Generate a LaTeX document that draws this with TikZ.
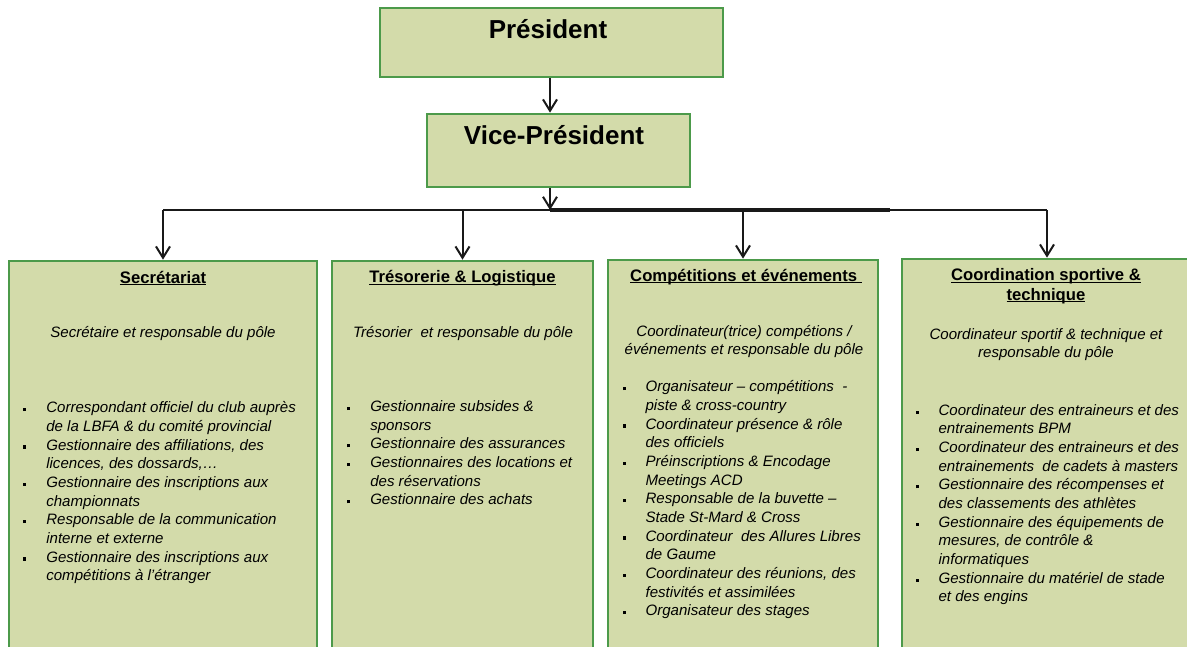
\documentclass[tikz,border=0pt]{standalone}
\usepackage{fontspec}
\setmainfont{Liberation Sans}
\usetikzlibrary{arrows.meta,fit}
\definecolor{boxfill}{HTML}{D3DBAA}
\definecolor{boxline}{HTML}{4C9A4A}
\newlength\bw
\newcommand\itm{\makebox[\bw][l]{\rule[1.1pt]{2.4pt}{2.4pt}}}
\newcommand\cnt{\hspace*{\bw}}
\newcommand\ulin[1]{\setbox0\hbox{#1}\rlap{\rule[-1.7pt]{\wd0}{0.8pt}}\box0}
\begin{document}
\begin{tikzpicture}[x=0.75pt,y=-0.75pt,
  box/.style={draw=boxline, fill=boxfill, line width=2pt, inner sep=0pt},
  conn/.style={line width=1.5pt, draw=black!90},
  arr/.style={conn, -{Straight Barb[length=8.5pt,width=10.5pt]}},
  ttl/.style={font=\bfseries\fontsize{12.5}{14.5}\selectfont, inner sep=0pt, align=center},
  sub/.style={font=\itshape\fontsize{11.3}{13.6}\selectfont, inner sep=0pt, align=center},
  lst/.style={font=\itshape\fontsize{11.3}{14}\selectfont, inner sep=0pt, align=left, anchor=north west},
  toptxt/.style={font=\bfseries\fontsize{19.5}{22}\selectfont, inner sep=0pt, anchor=base}
]
\useasboundingbox (0,0) rectangle (1187,646);
\fill[white] (0,0) rectangle (1187,646);
\clip (0,0) rectangle (1187,646);

% top boxes
\node[box, fit={(380,8) (723,77)}] (pres) {};
\node[toptxt] (prestxt) at (548,38) {Président};
\node[box, fit={(427,114) (690,187)}] (vp) {};
\node[toptxt] (vptxt) at (554,144) {Vice-Président};

% pole boxes
\node[box, fit={(9,261) (317,670)}] (sec) {};
\node[box, fit={(332,261) (593,670)}] (tre) {};
\node[box, fit={(608,260) (878,670)}] (com) {};
\node[box, fit={(902,259) (1192,670)}] (coo) {};

% connectors
\coordinate (bus) at (550,210);
\coordinate (busend) at (890,210);
\draw[arr] (pres.south -| bus) -- (vp.north -| bus);
\draw[arr] (vp.south -| bus) -- (bus);
\draw[conn] (bus -| sec.north) -- (bus -| coo.north);
\draw[line width=2.5pt, black!90] (bus) -- (busend);
\draw[arr] (bus -| sec.north) -- (sec.north);
\draw[arr] (bus -| tre.north) -- (tre.north);
\draw[arr] (bus -| com.north) -- (com.north);
\draw[arr] (bus -| coo.north) -- (coo.north);

% titles
\node[ttl, anchor=base] (sect) at (163,283) {\ulin{Secrétariat}};
\node[ttl, anchor=base] (tret) at (462.5,282.5) {\ulin{Trésorerie \& Logistique}};
\node[ttl, anchor=base] (comt) at (746,281) {\ulin{Compétitions et événements\ }};
\node[ttl, anchor=north] (coot) at (1046,268.5) {\ulin{Coordination sportive \&}\\\ulin{technique}};

% subtitles
\node[sub, anchor=base] (secs) at (163,337.5) {Secrétaire et responsable du pôle};
\node[sub, anchor=base] (tres) at (463,337.5) {Trésorier \ et responsable du pôle};
\node[sub, anchor=north] (coms) at (744,325.5) {Coordinateur(trice) compétions /\\événements et responsable du pôle};
\node[sub, anchor=north] (coos) at (1046,328.5) {Coordinateur sportif \& technique et\\responsable du pôle};

% lists
\setlength\bw{17.5pt}
\node[lst] (secl) at (22.7,401.3) {\itm Correspondant officiel du club auprès\\
\cnt de la LBFA \& du comité provincial\\
\itm Gestionnaire des affiliations, des\\
\cnt licences, des dossards,…\\
\itm Gestionnaire des inscriptions aux\\
\cnt championnats\\
\itm Responsable de la communication\\
\cnt interne et externe\\
\itm Gestionnaire des inscriptions aux\\
\cnt compétitions à l’étranger};

\setlength\bw{17.7pt}
\node[lst] (trel) at (346.4,400.3) {\itm Gestionnaire subsides \&\\
\cnt sponsors\\
\itm Gestionnaire des assurances\\
\itm Gestionnaires des locations et\\
\cnt des réservations\\
\itm Gestionnaire des achats};

\setlength\bw{17.2pt}
\node[lst] (coml) at (622.4,380.3) {\itm Organisateur – compétitions \ -\\
\cnt piste \& cross-country\\
\itm Coordinateur présence \& rôle\\
\cnt des officiels\\
\itm Préinscriptions \& Encodage\\
\cnt Meetings ACD\\
\itm Responsable de la buvette –\\
\cnt Stade St-Mard \& Cross\\
\itm Coordinateur \ des Allures Libres\\
\cnt de Gaume\\
\itm Coordinateur des réunions, des\\
\cnt festivités et assimilées\\
\itm Organisateur des stages};

\setlength\bw{17.2pt}
\node[lst] (cool) at (915.4,404) {\itm Coordinateur des entraineurs et des\\
\cnt entrainements BPM\\
\itm Coordinateur des entraineurs et des\\
\cnt entrainements \ de cadets à masters\\
\itm Gestionnaire des récompenses et\\
\cnt des classements des athlètes\\
\itm Gestionnaire des équipements de\\
\cnt mesures, de contrôle \&\\
\cnt informatiques\\
\itm Gestionnaire du matériel de stade\\
\cnt et des engins};
\end{tikzpicture}
\end{document}
